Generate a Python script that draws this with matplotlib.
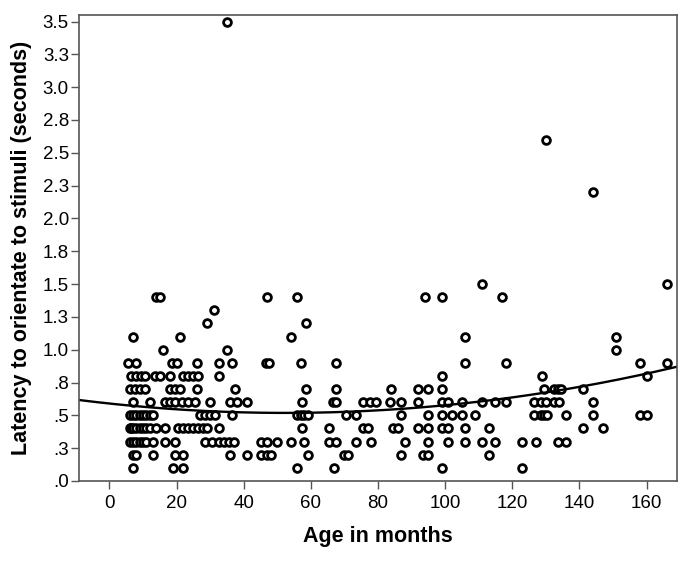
import numpy as np
import matplotlib
matplotlib.use("Agg")
import matplotlib.pyplot as plt

plt.rcParams['font.family'] = ['Liberation Sans', 'DejaVu Sans']

# ages (months) observed at each latency level (seconds)
ages_01 = [7, 19, 22, 56, 67, 99, 123]
ages_02 = [7, 8, 13, 19.5, 22, 36, 41, 45, 47, 48, 59, 70, 71, 87, 93.5, 95, 113]
ages_03 = [6, 7, 8, 9, 10, 11, 13, 16.5, 19.5, 28.5, 30.5, 32.5, 34, 35.5, 37, 45, 47,
           50, 54, 58, 65.5, 67.5, 73.5, 78, 88, 95, 101, 106, 111, 115, 123, 127, 133.5, 136]
ages_04 = [6, 6.5, 7, 8, 9, 10, 11, 12, 14, 16.5, 20.5, 22, 23.5, 25, 26.5, 28, 29, 32.5,
           57.5, 65.5, 75.5, 77, 84.5, 86, 92, 95, 99, 101, 106, 113, 141, 147]
ages_05 = [6, 7, 8, 9, 10, 11, 12, 13, 27, 28.5, 30, 31.5, 36.5, 56, 57, 58, 59, 70.5, 73.5,
           87, 95, 99, 102, 105, 109, 126.5, 128.5, 129.5, 130.5, 136, 144, 158, 160]
ages_06 = [7, 12, 16.5, 18, 19.5, 21.5, 23.5, 25.5, 30, 36, 38, 41, 57.5, 66.5, 67.5, 75.5,
           77.5, 79.5, 83.5, 87, 92, 99, 101, 105, 111, 115, 118, 126.5, 128.5, 130, 132.5, 134, 144]
ages_07 = [6, 7.5, 9, 10.5, 18, 19.5, 21, 26, 37.5, 58.5, 67.5, 84, 92, 95, 99, 129.5,
           132.5, 133.5, 134.5, 141]
ages_08 = [6.5, 8, 9.5, 10.5, 13.5, 15, 18, 22, 23.5, 25, 26.5, 32.5, 99, 129, 160]
ages_09 = [5.5, 8, 18.5, 20, 26, 32.5, 36.5, 46.5, 47.5, 57, 67.5, 106, 118, 158, 166]
ages_10 = [16, 35, 151]
ages_11 = [7, 21, 54, 106, 151]
ages_12 = [29, 58.5]
ages_13 = [31]
ages_14 = [14, 15, 47, 56, 94, 99, 117]
ages_15 = [111, 166]
ages_22 = [144]
ages_26 = [130]
ages_35 = [35]

latency_levels = [0.1, 0.2, 0.3, 0.4, 0.5, 0.6, 0.7, 0.8, 0.9, 1.0, 1.1, 1.2, 1.3, 1.4, 1.5, 2.2, 2.6, 3.5]
ages_by_level = [ages_01, ages_02, ages_03, ages_04, ages_05, ages_06, ages_07, ages_08, ages_09,
                 ages_10, ages_11, ages_12, ages_13, ages_14, ages_15, ages_22, ages_26, ages_35]

# quadratic fit line as shown (c2, c1, c0)
fit_coef = [2.59e-5, -0.00272, 0.59]

xticks = [0, 20, 40, 60, 80, 100, 120, 140, 160]
yticks = [0, 0.25, 0.5, 0.75, 1.0, 1.25, 1.5, 1.75, 2.0, 2.25, 2.5, 2.75, 3.0, 3.25, 3.5]
ytick_labels = ['.0', '.3', '.5', '.8', '1.0', '1.3', '1.5', '1.8', '2.0', '2.3', '2.5',
                '2.8', '3.0', '3.3', '3.5']

age = np.concatenate([np.array(a, dtype=float) for a in ages_by_level])
latency = np.concatenate([np.full(len(a), lv) for a, lv in zip(ages_by_level, latency_levels)])

fig = plt.figure(figsize=(6.93, 5.65), dpi=100)
ax = fig.add_axes([0.1144, 0.1487, 0.8621, 0.8248])

ax.plot(age, latency, linestyle='none', marker='o', markersize=5.6,
        markerfacecolor='white', markeredgecolor='black', markeredgewidth=2.0)

xmin, xmax = -9, 169
xs = np.linspace(xmin, xmax, 200)
ax.plot(xs, np.polyval(fit_coef, xs), color='black', linewidth=1.7)

ax.set_xlim(xmin, xmax)
ax.set_ylim(0, 3.55)
ax.set_xticks(xticks)
ax.set_yticks(yticks)
ax.set_yticklabels(ytick_labels)
ax.tick_params(axis='both', labelsize=13.5, length=5.5, width=1, color='#555555')
ax.tick_params(axis='x', pad=4.5)
ax.tick_params(axis='y', pad=2)

for s in ax.spines.values():
    s.set_color('#555555')
    s.set_linewidth(1.2)

ax.set_xlabel('Age in months', fontsize=15.5, fontweight='bold', labelpad=10)
ax.set_ylabel('Latency to orientate to stimuli (seconds)', fontsize=15.5, fontweight='bold', labelpad=8)

fig.savefig('out.png', dpi=100)
